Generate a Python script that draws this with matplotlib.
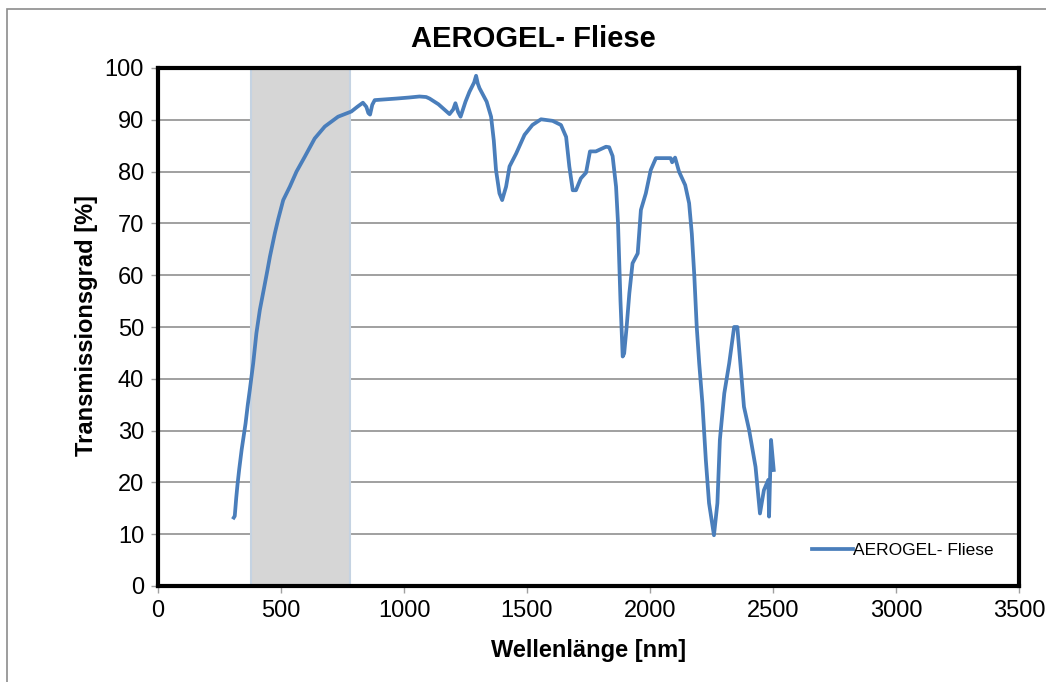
import matplotlib
matplotlib.use("Agg")
import matplotlib.pyplot as plt
from matplotlib.patches import Rectangle

plt.rcParams['font.family'] = ['Liberation Sans', 'DejaVu Sans']

# Measured transmission spectrum of the aerogel tile
wavelength_nm = [
    308, 312, 318, 323, 330, 340, 356, 365, 373, 387, 400, 414, 431, 445, 455,
    475, 488, 509, 536, 563, 597, 637, 678, 732, 786, 810, 833, 847, 855, 862,
    871, 881, 969, 1020, 1063, 1090, 1104, 1140, 1185, 1200, 1209, 1220, 1230,
    1250, 1266, 1285, 1293, 1300, 1307, 1336, 1354, 1365, 1374, 1388, 1399,
    1415, 1429, 1456, 1490, 1522, 1557, 1604, 1638, 1659, 1672, 1686, 1699,
    1719, 1740, 1756, 1780, 1821, 1834, 1848, 1862, 1870, 1880, 1889, 1895,
    1905, 1916, 1929, 1950, 1963, 1983, 2003, 2024, 2084, 2090, 2102, 2118,
    2143, 2159, 2170, 2180, 2190, 2200, 2213, 2227, 2240, 2260, 2274, 2284,
    2302, 2322, 2342, 2355, 2382, 2403, 2429, 2447, 2463, 2481, 2484, 2492,
    2503,
]
transmission_pct = [
    13.2, 13.5, 17.0, 19.5, 22.5, 26.3, 31.4, 35.0, 37.8, 43.0, 48.8, 53.3,
    57.5, 61.0, 63.6, 68.1, 70.7, 74.5, 77.1, 80.0, 82.9, 86.4, 88.7, 90.6,
    91.6, 92.5, 93.3, 92.5, 91.3, 91.0, 92.9, 93.8, 94.1, 94.3, 94.5, 94.4,
    94.1, 93.0, 91.1, 92.0, 93.2, 91.5, 90.6, 93.5, 95.4, 97.2, 98.5, 97.0,
    96.1, 93.5, 90.6, 86.0, 80.3, 75.8, 74.5, 77.1, 81.0, 83.5, 87.1, 89.0,
    90.1, 89.8, 89.0, 86.7, 81.0, 76.4, 76.4, 78.7, 79.8, 83.9, 83.9, 84.8,
    84.7, 83.0, 77.1, 70.0, 55.0, 44.3, 44.9, 50.0, 56.5, 62.3, 64.2, 72.6,
    75.8, 80.3, 82.6, 82.6, 81.8, 82.7, 80.0, 77.4, 73.9, 68.0, 60.0, 50.0,
    43.0, 35.3, 24.3, 16.0, 9.8, 16.0, 28.2, 37.2, 43.0, 50.0, 50.0, 34.6,
    30.1, 23.0, 14.0, 18.5, 20.5, 13.4, 28.2, 22.4,
]

# Visible range highlighted behind the curve
visible_start_nm = 380
visible_end_nm = 780

series_label = "AEROGEL- Fliese"
title_text = "AEROGEL- Fliese"
x_label = "Wellenlänge [nm]"
y_label = "Transmissionsgrad [%]"
x_ticks = [0, 500, 1000, 1500, 2000, 2500, 3000, 3500]
y_ticks = [0, 10, 20, 30, 40, 50, 60, 70, 80, 90, 100]

W, H = 1046, 682
fig = plt.figure(figsize=(W / 100, H / 100), dpi=100)
ax = fig.add_axes([158 / W, 1 - 586 / H, (1019 - 158) / W, (586 - 68) / H])

# Outer chart border (thin grey)
fig.patches.append(Rectangle((7 / W, -0.2), 1.5, (H - 9) / H + 0.2,
                             transform=fig.transFigure, fill=False,
                             edgecolor='#8c8c8c', linewidth=1.2, clip_on=False))

ax.axvspan(visible_start_nm, visible_end_nm, facecolor='#d6d6d6',
           edgecolor='#c5d3e2', linewidth=1.5, zorder=1)

ax.plot(wavelength_nm, transmission_pct, color='#4a7ebb', linewidth=2.7,
        label=series_label, zorder=3, solid_joinstyle='round')

ax.set_xlim(0, 3500)
ax.set_ylim(0, 100)
ax.set_xticks(x_ticks)
ax.set_yticks(y_ticks)
ax.yaxis.grid(True, color='#868686', linewidth=1.1, zorder=0)
ax.set_axisbelow(True)

for sp in ax.spines.values():
    sp.set_linewidth(3)
    sp.set_color('black')
    sp.set_zorder(4)

ax.tick_params(axis='both', direction='out', length=5, width=1, color='#a0a0a0',
               labelsize=17, pad=5)

fig.text(533 / W, 1 - 39 / H, title_text, fontsize=21, fontweight='bold',
         ha='center', va='center')
fig.text(589 / W, 1 - 651 / H, x_label, fontsize=17, fontweight='bold',
         ha='center', va='center')
fig.text(86 / W, 1 - 326 / H, y_label, fontsize=17, fontweight='bold',
         ha='center', va='center', rotation=90)

leg = ax.legend(loc='lower right', bbox_to_anchor=(0.985, 0.03), frameon=False,
                fontsize=12.5, handlelength=2.4, handletextpad=0.0, borderaxespad=0.3)

fig.savefig("out.png", dpi=100)
